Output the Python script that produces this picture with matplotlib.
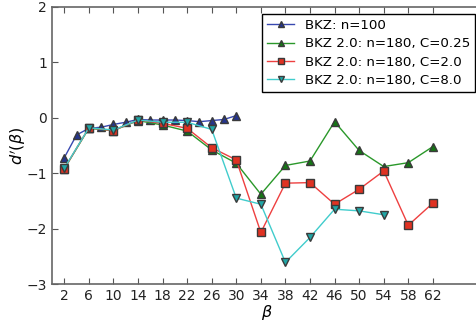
import matplotlib
matplotlib.use("Agg")
import matplotlib.pyplot as plt

# block sizes
beta_bkz = [2, 4, 6, 8, 10, 12, 14, 16, 18, 20, 22, 24, 26, 28, 30]
beta_c025 = [2, 6, 10, 14, 18, 22, 26, 30, 34, 38, 42, 46, 50, 54, 58, 62]
beta_c2 = [2, 6, 10, 14, 18, 22, 26, 30, 34, 38, 42, 46, 50, 54, 58, 62]
beta_c8 = [2, 6, 10, 14, 18, 22, 26, 30, 34, 38, 42, 46, 50, 54]

# d'(beta) values
d_bkz = [-0.72, -0.31, -0.19, -0.17, -0.12, -0.08, -0.03, -0.04, -0.04, -0.04,
         -0.05, -0.07, -0.05, -0.03, 0.04]
d_c025 = [-0.92, -0.19, -0.23, -0.05, -0.13, -0.24, -0.58, -0.82, -1.38, -0.86,
          -0.78, -0.07, -0.59, -0.88, -0.81, -0.52]
d_c2 = [-0.92, -0.18, -0.23, -0.04, -0.10, -0.19, -0.54, -0.76, -2.07, -1.18,
        -1.17, -1.56, -1.29, -0.96, -1.94, -1.54]
d_c8 = [-0.91, -0.18, -0.22, -0.04, -0.08, -0.08, -0.21, -1.45, -1.56, -2.61,
        -2.16, -1.65, -1.68, -1.75]

labels = ["BKZ: n=100", "BKZ 2.0: n=180, C=0.25",
          "BKZ 2.0: n=180, C=2.0", "BKZ 2.0: n=180, C=8.0"]
xticks = list(range(2, 63, 4))

plt.rcParams["font.family"] = ["DejaVu Sans"]
plt.rcParams["font.size"] = 10
plt.rcParams["mathtext.fontset"] = "dejavusans"

fig = plt.figure(figsize=(4.77, 3.24), dpi=100)
# axes runs slightly past the right edge, like the cropped original
ax = fig.add_axes([52 / 477, 40 / 324, 430 / 477, 277 / 324])

edge = "#3a3a3a"
ax.plot(beta_bkz, d_bkz, "-^", color="#3848b0", mfc="#24348c", mec=edge,
        ms=6, lw=1, label=labels[0])
ax.plot(beta_c025, d_c025, "-^", color="#2a982a", mfc="#157515", mec=edge,
        ms=6, lw=1, label=labels[1])
ax.plot(beta_c2, d_c2, "-s", color="#ee4040", mfc="#e03222", mec=edge,
        ms=6, lw=1, label=labels[2])
ax.plot(beta_c8, d_c8, "-v", color="#40cccc", mfc="#20a6a6", mec=edge,
        ms=6, lw=1, label=labels[3])

ax.set_xlim(0, 70)
ax.set_ylim(-3, 2)
ax.set_xticks(xticks)
ax.set_yticks([-3, -2, -1, 0, 1, 2])
ax.tick_params(direction="in", top=True, right=True, length=4,
               color="#555555", labelcolor="#222222")
for s in ax.spines.values():
    s.set_color("#666666")
    s.set_linewidth(1.2)

ax.set_xlabel(r"$\beta$", fontsize=11.5)
ax.set_ylabel(r"$d'(\beta)$", fontsize=11.5)
ax.xaxis.set_label_coords(0.5, -0.07)
ax.yaxis.set_label_coords(-0.056, 0.5)

leg = ax.legend(loc="upper right", fancybox=False, markerscale=0.7,
                fontsize=9.6, labelspacing=0.4, handlelength=2,
                borderaxespad=0.5, framealpha=1)
leg.get_frame().set_edgecolor("black")
leg.get_frame().set_linewidth(1)

fig.savefig("out.png", dpi=100, facecolor="white")
